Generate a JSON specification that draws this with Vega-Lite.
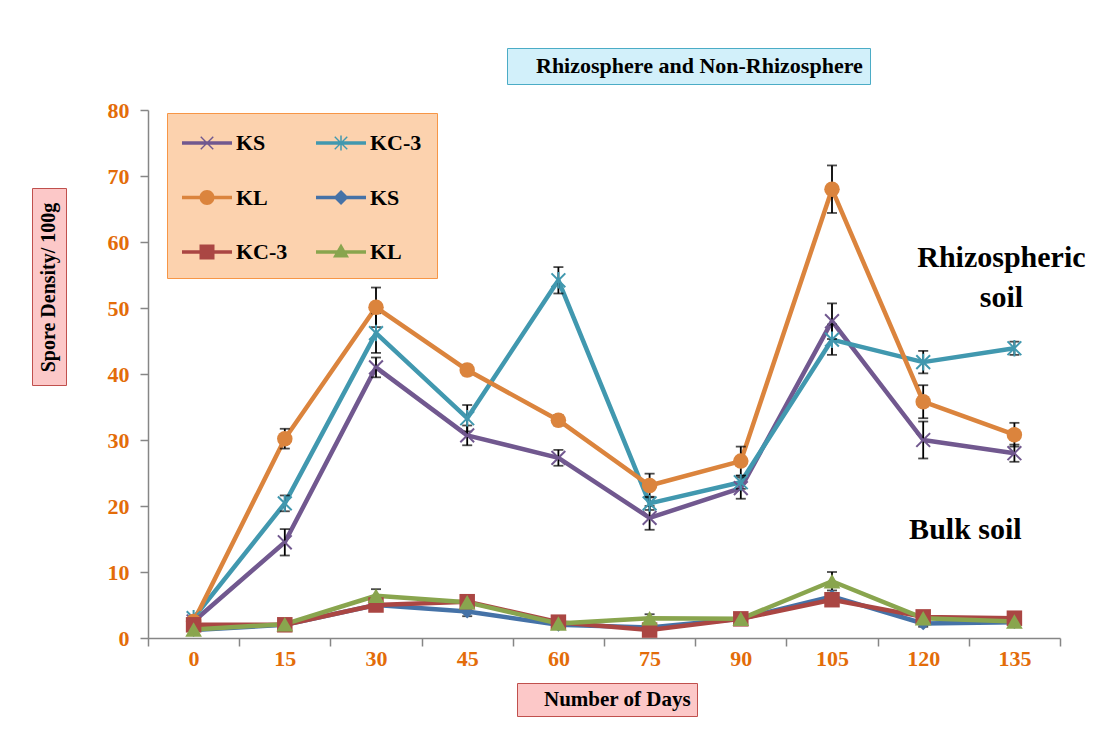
{
  "$schema": "https://vega.github.io/schema/vega-lite/v6.json",
  "width": 912,
  "height": 528,
  "autosize": {"type": "none"},
  "padding": {"left": 148, "top": 110, "right": 35, "bottom": 102},
  "background": "white",
  "config": {"view": {"stroke": null}, "font": "Liberation Serif"},
  "datasets": {
    "series": [
      {"day": 0, "s": "KS_R", "v": 2.5, "err": 0.5},
      {"day": 15, "s": "KS_R", "v": 14.5, "err": 2},
      {"day": 30, "s": "KS_R", "v": 41, "err": 1.5},
      {"day": 45, "s": "KS_R", "v": 30.7, "err": 1.5},
      {"day": 60, "s": "KS_R", "v": 27.3, "err": 1.2},
      {"day": 75, "s": "KS_R", "v": 18.2, "err": 1.8},
      {"day": 90, "s": "KS_R", "v": 22.7, "err": 1.6},
      {"day": 105, "s": "KS_R", "v": 48, "err": 2.7},
      {"day": 120, "s": "KS_R", "v": 30, "err": 2.8},
      {"day": 135, "s": "KS_R", "v": 28, "err": 1.3},
      {"day": 0, "s": "KC-3_R", "v": 3, "err": 0.4},
      {"day": 15, "s": "KC-3_R", "v": 20.4, "err": 1.2},
      {"day": 30, "s": "KC-3_R", "v": 46.2, "err": 3},
      {"day": 45, "s": "KC-3_R", "v": 33.3, "err": 2},
      {"day": 60, "s": "KC-3_R", "v": 54.2, "err": 2},
      {"day": 75, "s": "KC-3_R", "v": 20.4, "err": 1},
      {"day": 90, "s": "KC-3_R", "v": 23.6, "err": 1},
      {"day": 105, "s": "KC-3_R", "v": 45.2, "err": 2.3},
      {"day": 120, "s": "KC-3_R", "v": 41.8, "err": 1.7},
      {"day": 135, "s": "KC-3_R", "v": 43.9, "err": 1},
      {"day": 0, "s": "KL_R", "v": 2.5, "err": 0.4},
      {"day": 15, "s": "KL_R", "v": 30.2, "err": 1.5},
      {"day": 30, "s": "KL_R", "v": 50.1, "err": 3},
      {"day": 45, "s": "KL_R", "v": 40.6, "err": 0.8},
      {"day": 60, "s": "KL_R", "v": 33, "err": 0.8},
      {"day": 75, "s": "KL_R", "v": 23.1, "err": 1.8},
      {"day": 90, "s": "KL_R", "v": 26.8, "err": 2.2},
      {"day": 105, "s": "KL_R", "v": 68, "err": 3.6},
      {"day": 120, "s": "KL_R", "v": 35.8, "err": 2.5},
      {"day": 135, "s": "KL_R", "v": 30.8, "err": 1.8},
      {"day": 0, "s": "KS_B", "v": 1.2},
      {"day": 15, "s": "KS_B", "v": 2.0},
      {"day": 30, "s": "KS_B", "v": 5.0},
      {"day": 45, "s": "KS_B", "v": 4.0, "err": 0.7},
      {"day": 60, "s": "KS_B", "v": 2.0},
      {"day": 75, "s": "KS_B", "v": 1.6},
      {"day": 90, "s": "KS_B", "v": 2.9},
      {"day": 105, "s": "KS_B", "v": 6.3},
      {"day": 120, "s": "KS_B", "v": 2.2, "err": 0.5},
      {"day": 135, "s": "KS_B", "v": 2.4},
      {"day": 0, "s": "KC-3_B", "v": 2.0},
      {"day": 15, "s": "KC-3_B", "v": 2.0},
      {"day": 30, "s": "KC-3_B", "v": 5.0},
      {"day": 45, "s": "KC-3_B", "v": 5.5, "err": 0.5},
      {"day": 60, "s": "KC-3_B", "v": 2.4},
      {"day": 75, "s": "KC-3_B", "v": 1.2},
      {"day": 90, "s": "KC-3_B", "v": 2.9},
      {"day": 105, "s": "KC-3_B", "v": 5.8},
      {"day": 120, "s": "KC-3_B", "v": 3.2},
      {"day": 135, "s": "KC-3_B", "v": 3.0},
      {"day": 0, "s": "KL_B", "v": 1.3},
      {"day": 15, "s": "KL_B", "v": 2.1},
      {"day": 30, "s": "KL_B", "v": 6.4, "err": 1},
      {"day": 45, "s": "KL_B", "v": 5.4},
      {"day": 60, "s": "KL_B", "v": 2.2},
      {"day": 75, "s": "KL_B", "v": 3.0, "err": 0.6},
      {"day": 90, "s": "KL_B", "v": 2.9},
      {"day": 105, "s": "KL_B", "v": 8.6, "err": 1.4},
      {"day": 120, "s": "KL_B", "v": 3.0},
      {"day": 135, "s": "KL_B", "v": 2.5}
    ]
  },
  "layer": [
    {
      "data": {"name": "series"},
      "mark": {"type": "line", "strokeWidth": 4.5, "strokeJoin": "round"},
      "encoding": {
        "x": {
          "field": "day", "type": "ordinal", "title": null,
          "scale": {"type": "band", "paddingInner": 0, "paddingOuter": 0},
          "axis": {
            "labelAngle": 0, "tickBand": "extent", "domainColor": "#868686", "tickColor": "#868686",
            "tickSize": 8, "tickWidth": 1.5, "domainWidth": 1.5,
            "labelFont": "Liberation Serif", "labelFontSize": 22, "labelFontWeight": "bold",
            "labelColor": "#E36C09", "labelPadding": 2
          }
        },
        "y": {
          "field": "v", "type": "quantitative", "title": "Spore Density/ 100g",
          "scale": {"domain": [0, 80], "nice": false},
          "axis": {
            "values": [0, 10, 20, 30, 40, 50, 60, 70, 80], "grid": false, "zindex": 1,
            "domainColor": "#868686", "tickColor": "#868686", "tickSize": 8, "tickWidth": 1.5, "domainWidth": 1.5,
            "labelFont": "Liberation Serif", "labelFontSize": 22, "labelFontWeight": "bold",
            "labelColor": "#E36C09", "labelPadding": 11,
            "titleFont": "Liberation Serif", "titleFontSize": 20, "titleFontWeight": "bold", "titleColor": "black",
            "titleX": -90, "titleY": 177, "titleAngle": 270, "titleAlign": "center", "titleBaseline": "bottom"
          }
        },
        "stroke": {
          "field": "s", "type": "nominal", "legend": null,
          "scale": {
            "domain": ["KS_R", "KC-3_R", "KL_R", "KS_B", "KC-3_B", "KL_B"],
            "range": ["#71588F", "#4198AF", "#DB843D", "#4572A7", "#AA4643", "#89A54E"]
          }
        }
      }
    },
    {
      "data": {"name": "series"},
      "transform": [{"filter": "datum.day < 0"}],
      "mark": {"type": "point", "filled": true, "size": 900, "opacity": 1},
      "encoding": {
        "color": {
          "field": "s", "type": "nominal",
          "scale": {
            "domain": ["KS_R", "KL_R", "KC-3_B", "KC-3_R", "KS_B", "KL_B"],
            "range": ["#71588F", "#DB843D", "#AA4643", "#4198AF", "#4572A7", "#89A54E"]
          },
          "legend": {
            "orient": "none", "legendX": 19, "legendY": 3, "title": null,
            "columns": 2, "columnPadding": 28, "rowPadding": 28.5,
            "symbolSize": 900, "symbolStrokeWidth": 0, "symbolOpacity": 1, "labelOffset": 24, "padding": 15,
            "labelExpr": "split(datum.label, '_')[0]",
            "labelFont": "Liberation Serif", "labelFontSize": 22, "labelFontWeight": "bold",
            "labelColor": "black", "labelLimit": 0,
            "fillColor": "#fcd2ae", "strokeColor": "#f79646"
          }
        },
        "shape": {
          "field": "s", "type": "nominal",
          "scale": {
            "domain": ["KS_R", "KL_R", "KC-3_B", "KC-3_R", "KS_B", "KL_B"],
            "range": [
              "M-1,-0.117H2.333V0.117H-1Z M0.217,-0.383L0.283,-0.45L1.117,0.383L1.05,0.45Z M0.217,0.383L1.05,-0.45L1.117,-0.383L0.283,0.45Z",
              "M-1,-0.117H2.333V0.117H-1Z M0.167,0A0.5,0.5 0 1,1 1.167,0A0.5,0.5 0 1,1 0.167,0Z",
              "M-1,-0.117H2.333V0.117H-1Z M0.167,-0.5H1.167V0.5H0.167Z",
              "M-1,-0.117H2.333V0.117H-1Z M0.217,-0.383L0.283,-0.45L1.117,0.383L1.05,0.45Z M0.217,0.383L1.05,-0.45L1.117,-0.383L0.283,0.45Z M0.617,-0.5H0.717V0.5H0.617Z",
              "M-1,-0.117H2.333V0.117H-1Z M0.667,-0.5L1.167,0L0.667,0.5L0.167,0Z",
              "M-1,-0.117H2.333V0.117H-1Z M0.667,-0.567L1.2,0.367L0.133,0.367Z"
            ]
          }
        }
      }
    },
    {
      "data": {"name": "series"},
      "transform": [{"filter": "datum.err > 0"}],
      "mark": {"type": "errorbar", "ticks": {"size": 10, "thickness": 1.8, "color": "black"}, "thickness": 1.8, "color": "black"},
      "encoding": {
        "x": {"field": "day", "type": "ordinal", "title": null},
        "y": {"field": "v", "type": "quantitative", "title": "Spore Density/ 100g"},
        "yError": {"field": "err"}
      }
    },
    {
      "data": {"name": "series"},
      "transform": [{"filter": "datum.s === 'KS_R'"}],
      "mark": {"type": "point", "shape": "M-1,-1L1,1M-1,1L1,-1", "filled": false, "size": 190, "strokeWidth": 2, "opacity": 1, "color": "#71588F"},
      "encoding": {
        "x": {"field": "day", "type": "ordinal", "title": null},
        "y": {"field": "v", "type": "quantitative", "title": "Spore Density/ 100g"}
      }
    },
    {
      "data": {"name": "series"},
      "transform": [{"filter": "datum.s === 'KC-3_R'"}],
      "mark": {"type": "point", "shape": "M-1,-1L1,1M-1,1L1,-1M0,-1.2L0,1.2", "filled": false, "size": 190, "strokeWidth": 2, "opacity": 1, "color": "#4198AF"},
      "encoding": {
        "x": {"field": "day", "type": "ordinal", "title": null},
        "y": {"field": "v", "type": "quantitative", "title": "Spore Density/ 100g"}
      }
    },
    {
      "data": {"name": "series"},
      "transform": [{"filter": "datum.s === 'KL_R'"}],
      "mark": {"type": "point", "shape": "circle", "filled": true, "size": 240, "opacity": 1, "color": "#DB843D"},
      "encoding": {
        "x": {"field": "day", "type": "ordinal", "title": null},
        "y": {"field": "v", "type": "quantitative", "title": "Spore Density/ 100g"}
      }
    },
    {
      "data": {"name": "series"},
      "transform": [{"filter": "datum.s === 'KS_B'"}],
      "mark": {"type": "point", "shape": "diamond", "filled": true, "size": 190, "opacity": 1, "color": "#4572A7"},
      "encoding": {
        "x": {"field": "day", "type": "ordinal", "title": null},
        "y": {"field": "v", "type": "quantitative", "title": "Spore Density/ 100g"}
      }
    },
    {
      "data": {"name": "series"},
      "transform": [{"filter": "datum.s === 'KC-3_B'"}],
      "mark": {"type": "point", "shape": "square", "filled": true, "size": 240, "opacity": 1, "color": "#AA4643"},
      "encoding": {
        "x": {"field": "day", "type": "ordinal", "title": null},
        "y": {"field": "v", "type": "quantitative", "title": "Spore Density/ 100g"}
      }
    },
    {
      "data": {"name": "series"},
      "transform": [{"filter": "datum.s === 'KL_B'"}],
      "mark": {"type": "point", "shape": "triangle-up", "filled": true, "size": 280, "opacity": 1, "color": "#89A54E"},
      "encoding": {
        "x": {"field": "day", "type": "ordinal", "title": null},
        "y": {"field": "v", "type": "quantitative", "title": "Spore Density/ 100g"}
      }
    },
    {
      "data": {"values": [{"label": ["Rhizospheric", "soil"], "day": 135, "y": 57.6}]},
      "mark": {"type": "text", "font": "Liberation Serif", "fontSize": 30, "fontWeight": "bold", "align": "center", "baseline": "middle", "lineHeight": 40, "dx": -13, "color": "black"},
      "encoding": {
        "x": {"field": "day", "type": "ordinal", "title": null},
        "y": {"field": "y", "type": "quantitative", "title": "Spore Density/ 100g"},
        "text": {"field": "label"}
      }
    },
    {
      "data": {"values": [{"label": "Bulk soil", "day": 135, "y": 16.4}]},
      "mark": {"type": "text", "font": "Liberation Serif", "fontSize": 30, "fontWeight": "bold", "align": "center", "baseline": "middle", "dx": -49, "color": "black"},
      "encoding": {
        "x": {"field": "day", "type": "ordinal", "title": null},
        "y": {"field": "y", "type": "quantitative", "title": "Spore Density/ 100g"},
        "text": {"field": "label"}
      }
    },
    {
      "data": {"values": [{"t": "Rhizosphere and Non-Rhizosphere"}]},
      "mark": {"type": "point", "opacity": 0},
      "encoding": {
        "strokeDash": {
          "field": "t", "type": "nominal",
          "legend": {
            "orient": "none", "legendX": 359, "legendY": -62, "title": null,
            "symbolSize": 0, "symbolOpacity": 0, "symbolStrokeWidth": 0, "labelOffset": 0,
            "labelFont": "Liberation Serif", "labelFontSize": 22, "labelFontWeight": "bold",
            "labelColor": "black", "labelLimit": 0, "padding": 7,
            "fillColor": "#d2f0fa", "strokeColor": "#4bacc6"
          }
        }
      }
    },
    {
      "data": {"values": [{"t": "Number of Days"}]},
      "mark": {"type": "point", "opacity": 0},
      "encoding": {
        "strokeDash": {
          "field": "t", "type": "nominal",
          "legend": {
            "orient": "none", "legendX": 369, "legendY": 573, "title": null,
            "symbolSize": 0, "symbolOpacity": 0, "symbolStrokeWidth": 0, "labelOffset": 0,
            "labelFont": "Liberation Serif", "labelFontSize": 21, "labelFontWeight": "bold",
            "labelColor": "black", "labelLimit": 0, "padding": 6,
            "fillColor": "#fcc8c8", "strokeColor": "#c0504d"
          }
        }
      }
    },
    {
      "data": {"values": [{"t": "box"}]},
      "mark": {"type": "point", "opacity": 0},
      "encoding": {
        "strokeDash": {
          "field": "t", "type": "nominal",
          "legend": {
            "orient": "none", "legendX": -116, "legendY": 78, "title": null,
            "symbolType": "M-1,-1H-0.79V1H-1Z", "symbolSize": 33489, "symbolOpacity": 0, "symbolStrokeWidth": 0,
            "labelExpr": "''", "labelOffset": -180, "labelFontSize": 1,
            "padding": 7,
            "fillColor": "#fcc8c8", "strokeColor": "#c0504d"
          }
        }
      }
    }
  ],
  "resolve": {"scale": {"strokeDash": "independent"}, "legend": {"strokeDash": "independent"}}
}
